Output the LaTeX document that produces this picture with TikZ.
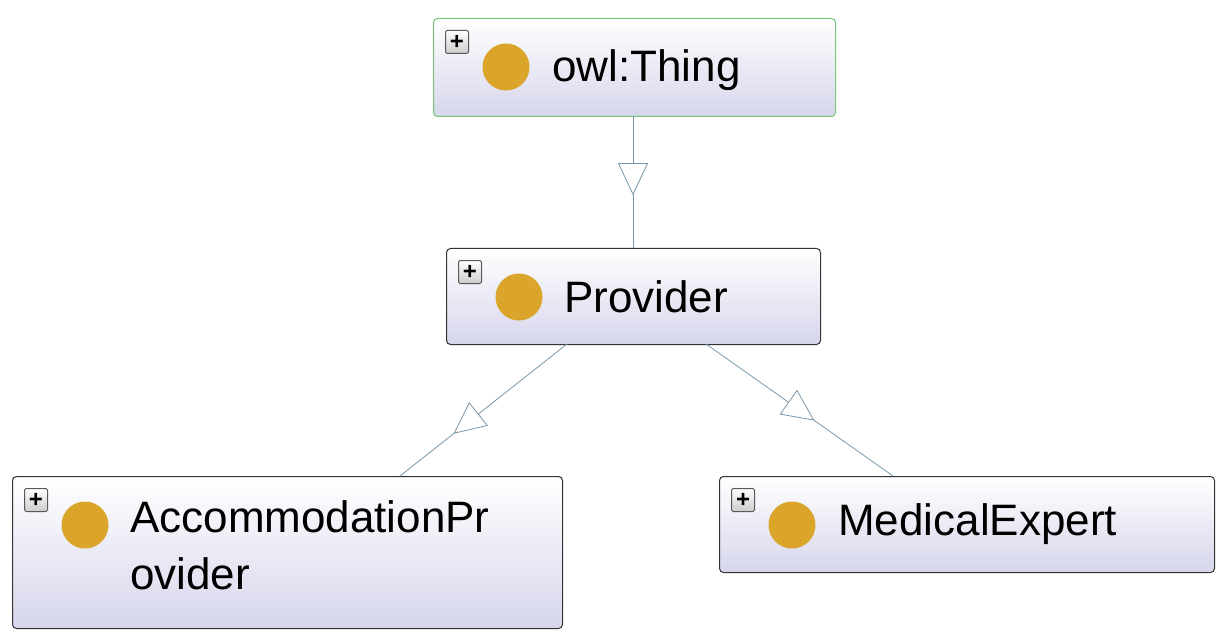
\documentclass[tikz,border=0pt]{standalone}
\usepackage{fontspec}
\setmainfont{Liberation Sans}
\usetikzlibrary{arrows.meta,decorations.markings}
\definecolor{boxbot}{RGB}{214,214,236}
\definecolor{dotc}{RGB}{218,165,42}
\definecolor{edgec}{RGB}{120,150,170}
\definecolor{thingb}{RGB}{120,200,120}
\tikzset{
  cls/.style={draw=#1, line width=1pt, rounded corners=4pt, top color=white, bottom color=boxbot, inner sep=0pt},
  dot/.style={circle, fill=dotc, minimum size=47pt, inner sep=0pt},
  plusbox/.style={draw=gray!70!black, line width=1pt, rounded corners=1.5pt, top color=white, bottom color=gray!40, minimum size=23pt, inner sep=0pt, font=\bfseries\fontsize{24}{24}\selectfont},
  lbl/.style={anchor=west, align=left, font=\fontsize{44}{57}\selectfont, inner sep=0pt},
  sub/.style={draw=edgec, line width=0.8pt, postaction={decorate}, decoration={markings, mark=at position #1 with {\arrow{Triangle[open, length=32pt, width=30pt, fill=white, line width=0.8pt]}}}}
}
\newcommand\owlbox[7]{%
  \node[cls=#7, minimum width=#4pt-#2pt, minimum height=#5pt-#3pt, anchor=north west] (#1) at (#2,#3) {};
  \node[plusbox] (#1p) at (#2+24,#3+24) {+};
  \node[dot] (#1d) at (#2+73,#3+49) {};
}
\begin{document}
\begin{tikzpicture}[x=1pt,y=-1pt]
\useasboundingbox (0,0) rectangle (1225,644);
\owlbox{thing}{433}{18}{835}{116}{}{thingb}
\node[lbl] (thingt) at (552,70) {owl:Thing};
\owlbox{prov}{446}{248}{820}{344}{}{gray!40!black}
\node[lbl] (provt) at (564,297) {Provider};
\owlbox{acc}{12}{476}{562}{628}{}{gray!40!black}
\node[lbl, anchor=north west] (acct) at (130,500) {AccommodationPr\\ovider};
\owlbox{med}{719}{476}{1214}{572}{}{gray!40!black}
\node[lbl] (medt) at (838,524) {MedicalExpert};
\coordinate (t1) at (633,116); \coordinate (p1) at (633,248);
\coordinate (p2) at (567,344); \coordinate (a1) at (400,476);
\coordinate (p3) at (706,344); \coordinate (m1) at (893,476);
\draw[sub=0.6] (t1) -- (p1);
\draw[sub=0.68] (p2) -- (a1);
\draw[sub=0.58] (p3) -- (m1);
\end{tikzpicture}
\end{document}
